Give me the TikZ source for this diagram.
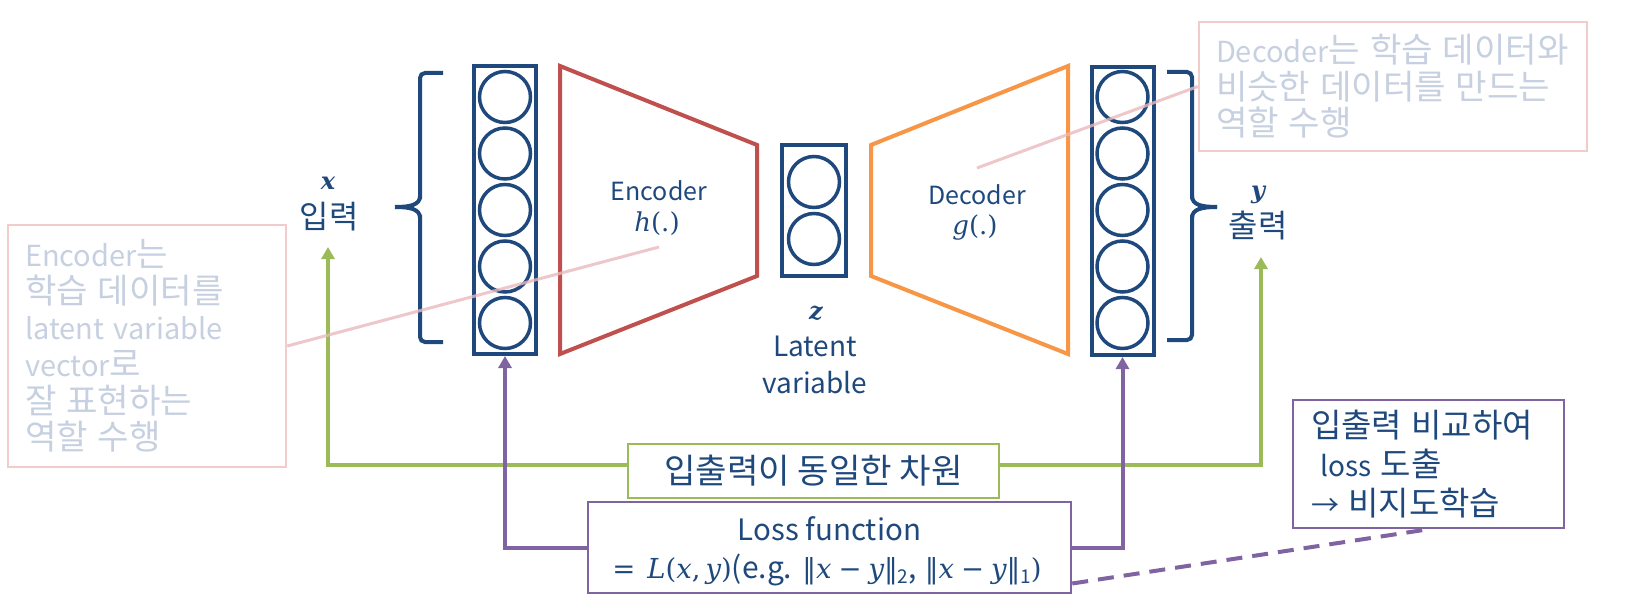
\documentclass[tikz,border=0pt]{standalone}
\usepackage[no-math]{fontspec}
\setmainfont{Noto Sans CJK KR}
\newfontfamily\kofont{Noto Sans CJK KR}[Scale=1.18]
\newfontfamily\mserif{DejaVu Serif}
\newcommand\ko[1]{{\kofont #1}}
\newcommand\mt[1]{{\mserif\fontsize{27.5}{40}\selectfont #1}}
\newcommand\mi[1]{{\mserif\itshape\fontsize{27.5}{40}\selectfont #1}}
\newcommand\sub[1]{\raisebox{-5pt}{\fontsize{19}{19}\selectfont #1}}
\usetikzlibrary{arrows.meta}
\definecolor{navy}{HTML}{1F497D}
\definecolor{encred}{HTML}{C0504D}
\definecolor{decorg}{HTML}{F79646}
\definecolor{lgreen}{HTML}{9BBB59}
\definecolor{lpurple}{HTML}{8064A2}
\definecolor{fadetext}{HTML}{C6D0E0}
\definecolor{fadeborder}{HTML}{F2CBCB}
\definecolor{fadeline}{HTML}{E8B9BB}
\begin{document}
\begin{tikzpicture}[x=1pt,y=-1pt,
  col/.style={draw=navy, line width=4pt, minimum width=62pt, minimum height=288pt, inner sep=0pt},
  zcol/.style={draw=navy, line width=4pt, minimum width=64pt, minimum height=131pt, inner sep=0pt},
  neuron/.style={circle, draw=navy, line width=3.5pt, minimum size=51pt, inner sep=0pt},
  brace/.style={draw=navy, line width=4pt, rounded corners=5pt},
  lbl/.style={text=navy, font=\kofont\fontsize{27}{33}\selectfont, inner sep=0pt},
  mlbl/.style={text=navy, font=\mserif\bfseries\itshape\fontsize{24}{30}\selectfont, inner sep=0pt},
  blocktxt/.style={text=navy, font=\fontsize{25}{30}\selectfont, inner sep=0pt},
  garrow/.style={draw=lgreen, line width=4pt, -{Triangle[width=13pt,length=12pt]}},
  parrow/.style={draw=lpurple, line width=4pt, -{Triangle[width=13pt,length=12pt]}},
  callout/.style={draw=fadeborder, line width=2.5pt, text=fadetext, align=left,
     font=\fontsize{29}{36.6}\selectfont, inner ysep=0pt, inner xsep=17pt, anchor=center},
  calloutline/.style={draw=fadeline, line width=3pt, opacity=0.8}
]
\useasboundingbox (0,0) rectangle (1625,610);

% input column
\node[col] (incol) at (505,210) {};
\foreach \i/\yy in {1/97,2/153.5,3/210,4/266.5,5/323}
  \node[neuron] (in\i) at (505,\yy) {};
% output column
\node[col] (outcol) at (1122.5,211) {};
\foreach \i/\yy in {1/97,2/153.5,3/210,4/266.5,5/323}
  \node[neuron] (out\i) at (1122.5,\yy) {};
% latent column
\node[zcol] (zcol) at (814,210.5) {};
\node[neuron] (z1) at (814,182) {};
\node[neuron] (z2) at (814,239) {};

% encoder / decoder trapezoids
\draw[encred, line width=4pt, line join=miter] (560,66) -- (757,145) -- (757,276) -- (560,354) -- cycle;
\draw[decorg, line width=4pt, line join=miter] (871,145) -- (1068,66) -- (1068,354) -- (871,276) -- cycle;
\node[blocktxt] (enctxt) at (659,191) {Encoder};
\node[text=navy, inner sep=0pt, font=\mserif\fontsize{26}{30}\selectfont] (encfn) at (657,224) {\textit{h}(.)};
\node[blocktxt] (dectxt) at (977,195) {Decoder};
\node[text=navy, inner sep=0pt, font=\mserif\fontsize{26}{30}\selectfont] (decfn) at (975,228) {\textit{g}(.)};

% braces
\draw[brace] (443,73) -- (420,73) -- (420,199);
\draw[navy, line width=4pt] (420,196) .. controls (420,205) and (410,207) .. (395,207);
\draw[navy, line width=4pt] (420,218) .. controls (420,209) and (410,207) .. (395,207);
\draw[brace] (420,215) -- (420,342) -- (443,342);

\draw[brace] (1167,72) -- (1192,72) -- (1192,199);
\draw[navy, line width=4pt] (1192,196) .. controls (1192,205) and (1202,207) .. (1217,207);
\draw[navy, line width=4pt] (1192,218) .. controls (1192,209) and (1202,207) .. (1217,207);
\draw[brace] (1192,215) -- (1192,340) -- (1167,340);

% labels
\node[mlbl] (xlab) at (328,183) {x};
\node[lbl] (inlab) at (329,217) {입력};
\node[mlbl] (ylab) at (1258,195) {y};
\node[lbl] (outlab) at (1258,226) {출력};
\node[mlbl] (zlab) at (816,313) {z};
\node[text=navy, inner sep=0pt, align=center, font=\fontsize{28}{37}\selectfont] (latlab) at (815,365) {Latent\\variable};

% bottom boxes
\node[draw=lgreen, line width=2.5pt, minimum width=371pt, minimum height=54pt, text=navy, inner sep=0pt,
      font=\kofont\fontsize{29}{33}\selectfont] (gbox) at (813.5,471) {입출력이 동일한 차원};
\node[draw=lpurple, line width=2.5pt, minimum width=483pt, minimum height=91pt, inner sep=0pt] (lbox) at (829.5,547.5) {};
\node[text=navy, inner sep=0pt, font=\fontsize{29.5}{36}\selectfont] (lossl1) at (829.5,529) {Loss function};
\node[text=navy, inner sep=0pt, font=\fontsize{30}{36}\selectfont] (lossl2) at (827,570)
  {\mt{=}\hspace{12pt}\mi{L}\mt{(}\mi{x}\mt{,}\hspace{5pt}\mi{y}\mt{)}(e.g.\hspace{10pt}\mt{‖}\mi{x}\hspace{7pt}\mt{−}\hspace{7pt}\mi{y}\mt{‖}\sub{2},\hspace{8pt}\mt{‖}\mi{x}\hspace{7pt}\mt{−}\hspace{7pt}\mi{y}\mt{‖}\sub{1}\mt{)}};
\node[draw=lpurple, line width=2.5pt, text width=235pt, minimum height=128pt, inner xsep=18pt, inner ysep=0pt,
      text=navy, align=left, font=\fontsize{28}{39}\selectfont] (rbox) at (1428.5,464)
      {\ko{입출력 비교하여}\\\ loss \ko{도출}\\→ \ko{비지도학습}};

% connectors
\coordinate (xtip) at (328,247);
\coordinate (ytip) at (1261,257);
\draw[garrow] ([yshift=6pt]gbox.west) -| (xtip);
\draw[garrow] ([yshift=6pt]gbox.east) -| (ytip);
\draw[parrow] (lbox.west) -| (incol.south);
\draw[parrow] (lbox.east) -| (outcol.south);
\draw[lpurple, line width=4pt, dash pattern=on 16pt off 10pt] ([yshift=-36pt]lbox.east) -- (rbox.south);

% callouts
\node[callout, text width=244pt, minimum height=242pt] (lcall) at (147,346)
  {Encoder\ko{는}\\\ko{학습 데이터를}\\latent variable\\vector\ko{로}\\\ko{잘 표현하는}\\\ko{역할 수행}};
\node[callout, text width=354pt, minimum height=129pt] (rcall) at (1393,86.5)
  {Decoder\ko{는 학습 데이터와}\\\ko{비슷한 데이터를 만드는}\\\ko{역할 수행}};
\coordinate (encpt) at (659,247);
\coordinate (decpt) at (977,168);
\draw[calloutline] (lcall.east) -- (encpt);
\draw[calloutline] (rcall.west) -- (decpt);
\end{tikzpicture}
\end{document}
